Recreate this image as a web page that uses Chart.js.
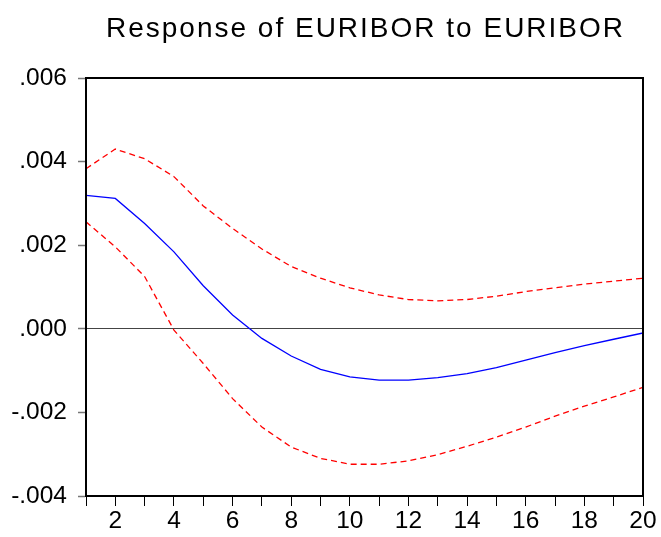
<!DOCTYPE html>
<html>
<head>
<meta charset="utf-8">
<script src="https://cdn.jsdelivr.net/npm/chart.js@4/dist/chart.umd.min.js"></script>
<style>
body{margin:0;background:#fff;}
#wrap{width:661px;height:537px;}
</style>
</head>
<body>
<div id="wrap"><canvas id="c" width="661" height="537"></canvas></div>
<script>
var periods = [1,2,3,4,5,6,7,8,9,10,11,12,13,14,15,16,17,18,19,20];
var response = [0.00319,0.00312,0.00252,0.00184,0.00103,0.00033,-0.00023,-0.00065,-0.00097,-0.00115,
	-0.00123,-0.00123,-0.00117,-0.00107,-0.00093,-0.00075,-0.00057,-0.00040,-0.00025,-0.00010];
var upper = [0.00383,0.00430,0.00407,0.00364,0.00294,0.00240,0.00191,0.00149,0.00121,0.00098,
	0.00081,0.00070,0.00067,0.00070,0.00078,0.00089,0.00098,0.00107,0.00114,0.00121];
var lower = [0.00256,0.00196,0.00125,-0.00003,-0.00083,-0.00167,-0.00235,-0.00283,-0.00310,-0.00324,
	-0.00324,-0.00316,-0.00301,-0.00281,-0.00259,-0.00235,-0.00209,-0.00185,-0.00163,-0.00140];
var yTicks = [-0.004,-0.002,0,0.002,0.004,0.006];
var titleText = "Response of EURIBOR to EURIBOR";

function pts(arr){
	var out = [];
	for(var i = 0; i < periods.length; i++){
		out.push({x: periods[i], y: arr[i]});
	}
	return out;
}

function fmt(v){
	var s = Math.abs(v).toFixed(3).replace(/^0/, "");
	return (v < -1e-9 ? "-" : "") + s;
}

var boxAndTitle = {
	id: "boxAndTitle",
	afterDraw: function(chart){
		var ctx = chart.ctx, a = chart.chartArea;
		ctx.save();
		ctx.strokeStyle = "#000";
		ctx.lineWidth = 2;
		ctx.strokeRect(a.left, a.top, a.right - a.left, a.bottom - a.top);
		ctx.fillStyle = "#000";
		ctx.font = "28px 'Liberation Sans', Arial, sans-serif";
		ctx.letterSpacing = "2px";
		ctx.textAlign = "center";
		ctx.textBaseline = "middle";
		ctx.fillText(titleText, (a.left + a.right) / 2 + 1, 29);
		ctx.restore();
	}
};

var font = {family: "'Liberation Sans', Arial, sans-serif", size: 24.5};

new Chart(document.getElementById("c"), {
	type: "line",
	data: {
		datasets: [
			{data: pts(upper), borderColor: "#ff0000", borderWidth: 1.3, borderDash: [6,4], pointRadius: 0, tension: 0, fill: false},
			{data: pts(lower), borderColor: "#ff0000", borderWidth: 1.3, borderDash: [6,4], pointRadius: 0, tension: 0, fill: false},
			{data: pts(response), borderColor: "#0000ff", borderWidth: 1.3, pointRadius: 0, tension: 0, fill: false}
		]
	},
	options: {
		responsive: false,
		animation: false,
		layout: {padding: {top: 78, right: 18, left: 0, bottom: 0}},
		plugins: {legend: {display: false}, tooltip: {enabled: false}, title: {display: false}},
		scales: {
			x: {
				type: "linear", min: 1, max: 20,
				afterBuildTicks: function(s){ s.ticks = periods.map(function(p){ return {value: p}; }); },
				afterFit: function(s){ s.height = 41; },
				ticks: {
					color: "#000", font: font, padding: 1, maxRotation: 0, autoSkip: false,
					callback: function(v){ return v % 2 === 0 ? String(v) : ""; }
				},
				grid: {drawOnChartArea: false, tickLength: 10, tickColor: "#000", tickWidth: 1},
				border: {color: "#000", width: 2}
			},
			y: {
				min: -0.004, max: 0.006,
				afterBuildTicks: function(s){ s.ticks = yTicks.map(function(v){ return {value: v}; }); },
				afterFit: function(s){ s.width = 86; },
				ticks: {color: "#000", font: font, padding: 11, callback: function(v){ return fmt(v); }},
				grid: {
					color: function(c){ return c.tick && Math.abs(c.tick.value) < 1e-9 ? "#444" : "rgba(0,0,0,0)"; },
					lineWidth: 1, tickLength: 8, tickColor: "#777", tickWidth: 1.5
				},
				border: {color: "#000", width: 2}
			}
		}
	},
	plugins: [boxAndTitle]
});
</script>
</body>
</html>
